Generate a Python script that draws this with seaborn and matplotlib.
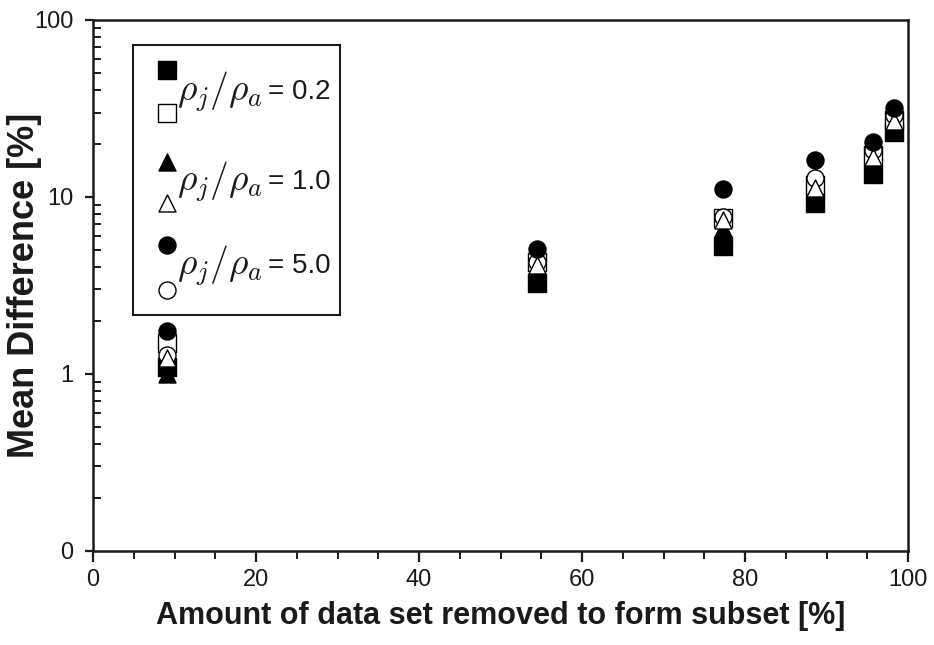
import numpy as np
import pandas as pd
import matplotlib
matplotlib.use("Agg")
import matplotlib.pyplot as plt
from matplotlib.patches import Rectangle
from matplotlib.ticker import FixedLocator, FixedFormatter, LogLocator, MultipleLocator, NullFormatter
import seaborn as sns

# Amount of data removed [%] for each subset
removed = [9.1, 54.5, 77.3, 88.6, 95.7, 98.3]

# Mean difference [%] for each density ratio (filled / open symbol pairs)
sq_filled = [1.09, 3.27, 5.3, 9.25, 13.5, 23.3]
sq_open = [1.5, 4.3, 7.6, 11.7, 17.3, 27.3]
tri_filled = [1.0, 3.9, 6.7, 10.7, 15.8, 25.8]
tri_open = [1.23, 4.1, 7.4, 11.2, 16.8, 27.0]
circ_filled = [1.75, 5.1, 11.1, 16.2, 20.5, 31.8]
circ_open = [1.28, 4.3, 7.7, 12.8, 18.4, 29.0]

ratio_labels = ["0.2", "1.0", "5.0"]
y_ticks = [0.1, 1, 10, 100]
y_ticklabels = ["0", "1", "10", "100"]
x_ticks = [0, 20, 40, 60, 80, 100]

sns.set_theme(style="ticks")
plt.rcParams["font.family"] = ["Liberation Sans", "DejaVu Sans"]
plt.rcParams["mathtext.fontset"] = "cm"

fig = plt.figure(figsize=(9.34, 6.45), dpi=100)
ax = fig.add_axes([0.0996, 0.146, 0.8726, 0.823])

series = [
    ("sq_f", sq_filled, "s", "black"),
    ("tri_f", tri_filled, "^", "black"),
    ("sq_o", sq_open, "s", "white"),
    ("circ_o", circ_open, "o", "white"),
    ("tri_o", tri_open, "^", "white"),
    ("circ_f", circ_filled, "o", "black"),
]
for name, vals, mk, fc in series:
    df = pd.DataFrame({"removed": removed, "diff": vals})
    sns.scatterplot(data=df, x="removed", y="diff", marker=mk, s=150,
                    color=fc, edgecolor="black", linewidth=1.0, ax=ax,
                    legend=False, zorder=3)

ax.set_yscale("log")
ax.set_ylim(0.1, 100)
ax.set_xlim(0, 100)
ax.yaxis.set_major_locator(FixedLocator(y_ticks))
ax.yaxis.set_major_formatter(FixedFormatter(y_ticklabels))
ax.yaxis.set_minor_locator(LogLocator(base=10, subs=np.arange(2, 10)))
ax.yaxis.set_minor_formatter(NullFormatter())
ax.xaxis.set_major_locator(FixedLocator(x_ticks))
ax.xaxis.set_minor_locator(MultipleLocator(5))

for sp in ax.spines.values():
    sp.set_linewidth(1.8)
    sp.set_color("#1a1a1a")

ax.tick_params(axis="x", which="major", direction="out", length=8, width=1.6,
               labelsize=17, pad=5, colors="#1a1a1a")
ax.tick_params(axis="x", which="minor", direction="out", length=6, width=1.4,
               colors="#1a1a1a")
ax.tick_params(axis="y", which="major", direction="out", length=6, width=1.6,
               labelsize=17, pad=8, colors="#1a1a1a")
ax.tick_params(axis="y", which="minor", direction="in", length=6, width=1.4,
               colors="#1a1a1a")

ax.set_xlabel("Amount of data set removed to form subset [%]", fontsize=22,
              fontweight="bold", labelpad=7, color="#1a1a1a")
ax.set_ylabel("Mean Difference [%]", fontsize=26, fontweight="bold",
              color="#1a1a1a")
ax.yaxis.set_label_coords(-0.062, 0.5)

# Legend box with stacked filled/open symbols
tr = ax.transAxes
ax.add_patch(Rectangle((0.049, 0.444), 0.254, 0.509, transform=tr,
                       facecolor="white", edgecolor="#1a1a1a", linewidth=1.5,
                       zorder=4))
pairs = [("s", 0.906, 0.825, 0.864), ("^", 0.733, 0.655, 0.695),
         ("o", 0.576, 0.492, 0.537)]
for (mk, yf, yo, yt), lab in zip(pairs, ratio_labels):
    ax.scatter([0.0908], [yf], marker=mk, s=150, color="black",
               edgecolor="black", transform=tr, zorder=5, clip_on=False)
    ax.scatter([0.0908], [yo], marker=mk, s=150, color="white",
               edgecolor="black", linewidth=1.0, transform=tr, zorder=5,
               clip_on=False)
    ax.text(0.103, yt, r"$\rho_j/\rho_a$", transform=tr, fontsize=27,
            va="center", ha="left", zorder=6, color="#1a1a1a")
    ax.text(0.215, yt, "= " + lab, transform=tr, fontsize=20, va="center",
            ha="left", zorder=6, color="#1a1a1a")

fig.savefig("out.png", dpi=100)
